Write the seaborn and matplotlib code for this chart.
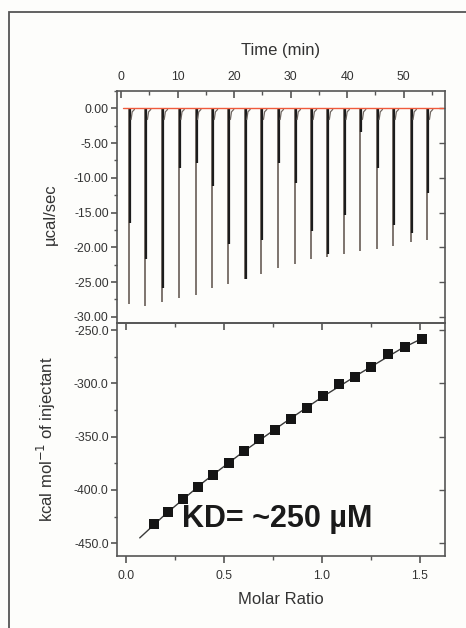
import numpy as np
import pandas as pd
import matplotlib
matplotlib.use("Agg")
import matplotlib.pyplot as plt
from matplotlib.ticker import MultipleLocator, FixedLocator, FixedFormatter
from matplotlib.patches import Rectangle
import seaborn as sns

# ---------------- data ----------------
inj_time = [1.44, 4.33, 7.3, 10.25, 13.2, 16.15, 19.0, 21.9, 24.85, 27.8,
            30.8, 33.65, 36.5, 39.45, 42.35, 45.3, 48.15, 51.3, 54.2]
peak_depth = [-28.2, -28.5, -27.9, -27.3, -26.9, -25.9, -25.3, -24.5, -23.9, -23.0,
              -22.4, -21.7, -21.4, -20.9, -20.5, -20.3, -19.8, -19.3, -19.0]
inner_depth = [-16.5, -21.7, -25.9, -8.6, -7.9, -11.2, -19.5, -24.5, -18.9, -7.9,
               -10.8, -17.6, -20.9, -15.4, -3.4, -8.6, -16.8, -17.9, -12.2]

molar_ratio = [0.145, 0.216, 0.293, 0.366, 0.442, 0.526, 0.602, 0.680, 0.760,
               0.840, 0.922, 1.003, 1.088, 1.168, 1.250, 1.335, 1.423, 1.509]
heat = [-431.8, -420.6, -408.4, -397.5, -385.6, -374.7, -363.4, -352.5, -343.7,
        -333.4, -323.1, -312.1, -300.9, -294.4, -285.0, -272.8, -266.3, -258.4]

fit_x = [0.07, 0.2, 0.4, 0.6, 0.8, 1.0, 1.2, 1.4, 1.51]
fit_y = [-445.0, -423.0, -392.0, -364.0, -338.0, -313.0, -290.0, -268.0, -258.0]

top_ticks = [0, 10, 20, 30, 40, 50]
top_tick_labels = ["0", "10", "20", "30", "40", "50"]
upper_yticks = [0, -5, -10, -15, -20, -25, -30]
upper_ytick_labels = ["0.00", "-5.00", "-10.00", "-15.00", "-20.00", "-25.00", "-30.00"]
lower_xticks = [0.0, 0.5, 1.0, 1.5]
lower_xtick_labels = ["0.0", "0.5", "1.0", "1.5"]
lower_yticks = [-250, -300, -350, -400, -450]
lower_ytick_labels = ["-250.0", "-300.0", "-350.0", "-400.0", "-450.0"]

# ---------------- style ----------------
sns.set_style("ticks")
plt.rcParams['font.family'] = ['Liberation Sans', 'DejaVu Sans']
TXT = '#333333'
SP = '#555555'
TICK_FS = 8.8
LAB_FS = 12

W, H = 466, 628
fig = plt.figure(figsize=(W / 100, H / 100), dpi=100)
fig.patch.set_facecolor('#fdfdfb')

def fx(px):
    return px / W

def fy(py):
    return 1 - py / H

left, right = 117, 445
ax1 = fig.add_axes([fx(left), fy(323), fx(right - left), fy(91) - fy(323)])
ax2 = fig.add_axes([fx(left), fy(556), fx(right - left), fy(323) - fy(556)])

# outer frame (only left/top edges visible in the crop)
fig.patches.append(Rectangle((fx(9), fy(640)), 1.2, fy(12) - fy(640),
                             transform=fig.transFigure, fill=False,
                             edgecolor='#555555', lw=1.3))

# ---------------- upper panel: thermogram ----------------
ax1.set_facecolor('none')
therm = pd.DataFrame({'t': inj_time, 'peak': peak_depth, 'inner': inner_depth})
ax1.vlines(therm['t'], 0, therm['peak'], color='#7d746e', lw=1.4)
ax1.vlines(therm['t'] + 0.17, 0, therm['inner'], color='#1c1c1c', lw=1.6)
for t in inj_time:
    ax1.plot([t + 0.35, t + 0.55, t + 0.95], [-1.6, -0.5, -0.15],
             color='#6e6660', lw=0.9)
sns.lineplot(x=[0.3, 56.9], y=[0, 0], ax=ax1, color='#f05a3c', lw=1.0)

ax1.set_xlim(-0.7, 57.3)
ax1.set_ylim(-30.9, 2.5)
ax1.xaxis.set_ticks_position('top')
ax1.xaxis.set_label_position('top')
ax1.xaxis.set_major_locator(FixedLocator(top_ticks))
ax1.xaxis.set_major_formatter(FixedFormatter(top_tick_labels))
ax1.xaxis.set_minor_locator(MultipleLocator(5))
ax1.yaxis.set_major_locator(FixedLocator(upper_yticks))
ax1.yaxis.set_major_formatter(FixedFormatter(upper_ytick_labels))
ax1.yaxis.set_minor_locator(MultipleLocator(2.5))
ax1.tick_params(axis='x', which='both', direction='in', top=True, bottom=False,
                labelsize=TICK_FS, labelcolor=TXT, color=SP, pad=6)
ax1.tick_params(axis='x', which='major', length=5, width=1.2)
ax1.tick_params(axis='x', which='minor', length=3, width=1.0)
ax1.tick_params(axis='y', which='both', direction='out', left=True, right=False,
                labelsize=TICK_FS, labelcolor=TXT, color=SP, pad=2)
ax1.tick_params(axis='y', which='major', length=4, width=1.2)
ax1.tick_params(axis='y', which='minor', length=2.5, width=1.0)
ax1r = ax1.secondary_yaxis('right')
ax1r.yaxis.set_major_locator(FixedLocator(upper_yticks))
ax1r.tick_params(direction='in', length=4, width=1.0, color=SP, labelright=False)
ax1r.spines['right'].set_visible(False)
ax1.set_xlabel('Time (min)', fontsize=LAB_FS, color=TXT, labelpad=11)
ax1.set_ylabel('µcal/sec', fontsize=LAB_FS, color=TXT)
ax1.yaxis.set_label_coords(-0.18, 0.47)
for s in ax1.spines.values():
    s.set_color(SP)
    s.set_linewidth(1.2)

# ---------------- lower panel: binding isotherm ----------------
ax2.set_facecolor('none')
pts = pd.DataFrame({'ratio': molar_ratio, 'heat': heat})
fit = pd.DataFrame({'x': fit_x, 'y': fit_y})
sns.lineplot(data=fit, x='x', y='y', ax=ax2, color='#3a3a3a', lw=1.0)
sns.scatterplot(data=pts, x='ratio', y='heat', ax=ax2, marker='s', s=42,
                color='#151515', edgecolor='#151515', linewidth=0, zorder=3)
ax2.set_xlim(-0.046, 1.628)
ax2.set_ylim(-462, -243.4)
ax2.xaxis.set_major_locator(FixedLocator(lower_xticks))
ax2.xaxis.set_major_formatter(FixedFormatter(lower_xtick_labels))
ax2.xaxis.set_minor_locator(MultipleLocator(0.25))
ax2.yaxis.set_major_locator(FixedLocator(lower_yticks))
ax2.yaxis.set_major_formatter(FixedFormatter(lower_ytick_labels))
ax2.yaxis.set_minor_locator(MultipleLocator(25))
ax2.tick_params(axis='x', which='both', direction='out', bottom=True, top=False,
                labelsize=TICK_FS, labelcolor=TXT, color=SP, pad=5)
ax2.tick_params(axis='x', which='major', length=5, width=1.2)
ax2.tick_params(axis='x', which='minor', length=3, width=1.0)
ax2.tick_params(axis='y', which='both', direction='out', left=True, right=False,
                labelsize=TICK_FS, labelcolor=TXT, color=SP, pad=2)
ax2.tick_params(axis='y', which='major', length=4, width=1.2)
ax2.tick_params(axis='y', which='minor', length=2.5, width=1.0)
ax2t = ax2.secondary_xaxis('top')
ax2t.xaxis.set_major_locator(FixedLocator(lower_xticks))
ax2t.xaxis.set_minor_locator(MultipleLocator(0.25))
ax2t.tick_params(which='major', direction='in', length=5, width=1.2, color=SP, labeltop=False)
ax2t.tick_params(which='minor', direction='in', length=3, width=1.0, color=SP)
ax2t.spines['top'].set_visible(False)
ax2r = ax2.secondary_yaxis('right')
ax2r.yaxis.set_major_locator(FixedLocator(lower_yticks))
ax2r.tick_params(direction='in', length=4, width=1.0, color=SP, labelright=False)
ax2r.spines['right'].set_visible(False)
ax2.set_xlabel('Molar Ratio', fontsize=LAB_FS, color=TXT, labelpad=7)
ax2.set_ylabel('kcal mol$^{-1}$ of injectant', fontsize=LAB_FS, color=TXT)
ax2.yaxis.set_label_coords(-0.18, 0.5)
for s in ax2.spines.values():
    s.set_color(SP)
    s.set_linewidth(1.2)

ax2.text(0.487, 0.16, 'KD= ~250 µM', transform=ax2.transAxes, ha='center', va='center',
         fontsize=22, fontweight='bold', color='#1a1a1a')

fig.savefig('out.png', dpi=100, facecolor=fig.get_facecolor())
